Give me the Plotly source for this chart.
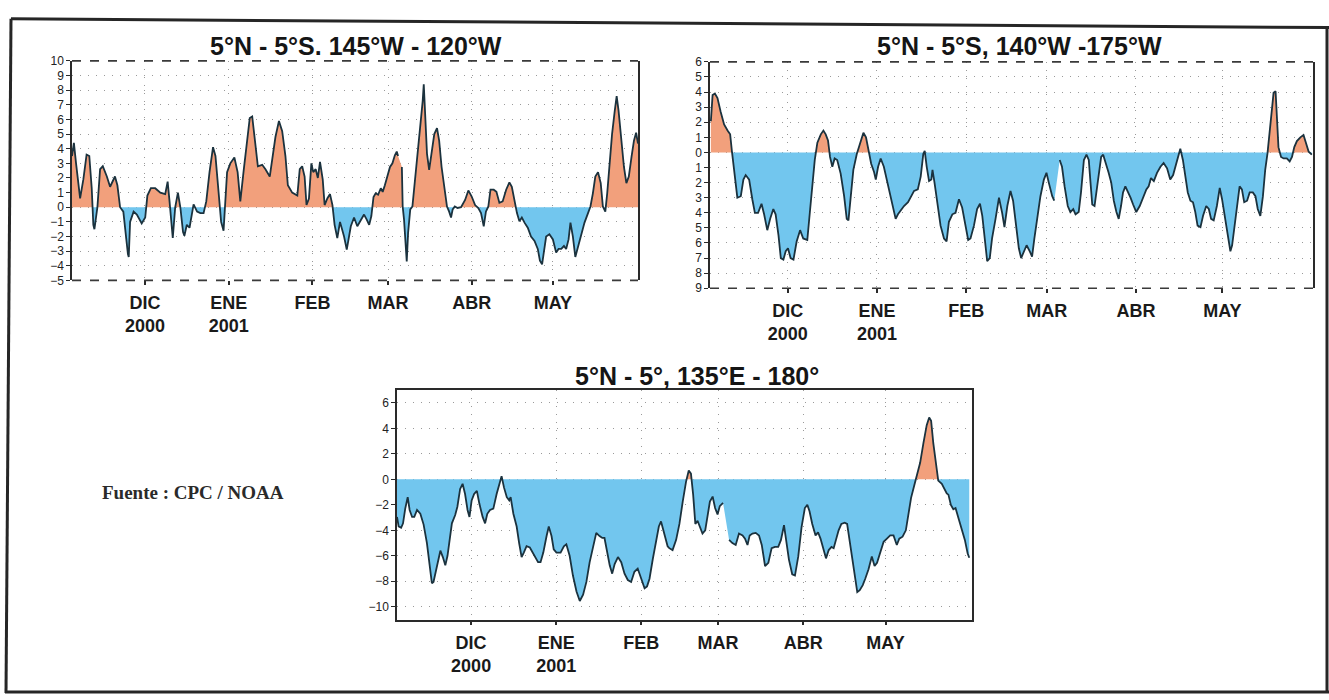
import plotly.graph_objects as go
import pandas as pd

# ---------------- data (days since 2000-11-04, anomaly values) ----------------
START = "2000-11-04"
month_ticks = ["2000-12-01", "2001-01-01", "2001-02-01", "2001-03-01", "2001-04-01", "2001-05-01"]
month_labels = ["DIC<br>2000", "ENE<br>2001", "FEB", "MAR", "ABR", "MAY"]

titles = ["5°N - 5°S. 145°W - 120°W", "5°N - 5°S, 140°W -175°W", "5°N - 5°, 135°E - 180°"]
source_note = "Fuente : CPC / NOAA"

p1_days = [0, 0.7, 1.5, 3.0, 4.2, 5.4, 6.4, 7.3, 7.9, 8.3, 9.4, 10.4, 11.4, 12.9, 14.1, 15.3, 15.9, 16.8,
           17.8, 19.0, 19.9, 20.7, 21.0, 21.5, 22.8, 24.0, 25.8, 27.1, 27.9, 29.2, 30.8, 32.7, 34.5, 35.4,
           36.1, 37.0, 37.3, 38.2, 39.2, 40.1, 41.1, 41.6, 42.5, 43.5, 45.0, 46.3, 47.5, 48.7, 49.7, 50.9,
           52.2, 53.1, 54.3, 55.2, 56.1, 56.8, 57.4, 58.6, 60.1, 61.3, 62.3, 63.6, 64.8, 65.8, 66.7, 67.5,
           68.8, 70.4, 71.6, 73.2, 74.1, 75.3, 76.6, 77.8, 79.0, 79.9, 81.5, 83.4, 84.3, 85.2, 86.1, 86.8,
           87.7, 88.6, 89.3, 90.2, 91.0, 91.8, 92.8, 93.5, 94.5, 95.5, 96.4, 97.2, 98.2, 99.2, 100.7, 101.7,
           103.2, 104.4, 105.6, 106.9, 108.1, 109.1, 110.0, 110.8, 111.6, 112.4, 113.3, 114.3, 115.0, 115.8,
           116.8, 117.7, 118.6, 119.5, 120.2, 120.7, 121.4, 122.1, 122.4, 122.9, 123.6, 123.9, 124.4, 125.2,
           126.0, 126.9, 127.9, 128.9, 129.8, 130.2, 130.7, 131.4, 132.2, 133.1, 134.1, 135.1, 135.9, 136.8,
           137.8, 138.8, 139.6, 140.3, 140.9, 141.7, 142.7, 144.0, 145.5, 146.7, 147.9, 149.2, 150.4, 151.4,
           152.4, 153.2, 154.1, 154.9, 156.1, 157.1, 158.2, 159.4, 160.7, 161.9, 162.8, 163.8, 164.7, 165.6,
           166.5, 167.5, 168.7, 169.9, 171.2, 172.4, 173.2, 174.0, 174.7, 175.5, 176.7, 178.0, 179.2, 180.1,
           181.1, 182.1, 182.9, 183.8, 184.5, 185.4, 186.3, 187.3, 188.5, 189.7, 191.0, 191.9, 192.8, 193.7,
           194.7, 195.7, 196.5, 197.4, 198.1, 199.0, 199.9, 200.9, 201.6, 202.3, 203.3, 204.3, 205.2, 206.1,
           207.1, 208.0, 208.8, 209.5]
p1_vals = [3.5, 4.4, 3.0, 0.6, 1.9, 3.6, 3.5, 1.3, -1.2, -1.5, 0.0, 2.6, 2.8, 2.1, 1.4, 1.9, 2.1, 1.5,
           0.0, -0.3, -2.1, -3.2, -3.4, -1.0, -0.3, -0.5, -1.1, -0.7, 0.8, 1.3, 1.3, 1.0, 0.9, 1.75,
           0.4, -1.9, -2.1, 0.0, 1.0, 0.0, -1.7, -1.95, -1.2, -1.4, 0.2, -0.3, -0.4, -0.4, 0.4, 2.4,
           4.1, 3.5, 0.6, -1.0, -1.6, 0.6, 2.4, 3.0, 3.4, 2.4, 0.4, 2.6, 4.4, 6.1, 6.2, 5.0,
           2.8, 2.9, 2.6, 2.1, 3.3, 4.8, 5.9, 5.2, 3.5, 1.5, 1.0, 0.8, 2.6, 2.8, 2.1, 0.15,
           0.6, 3.0, 2.4, 2.6, 2.0, 3.1, 1.9, 0.15, 0.6, 0.9, 0.15, -1.2, -2.1, -1.0, -2.0, -2.9,
           -1.3, -0.7, -1.3, -0.85, -0.5, -0.85, -1.2, -0.6, 0.7, 0.95, 0.85, 1.3, 1.05, 1.5,
           2.1, 2.75, 3.0, 3.55, 3.8, 3.5, None, 2.75, 0.05, -0.85, -3.1, -3.7, -1.75, -0.15,
           0.05, 1.65, 3.45, 5.45, 7.25, 8.4, 6.35, 3.65, 2.55, 3.65, 5.0, 5.4, 4.55, 2.75,
           1.2, 0.05, -0.3, -0.7, -0.15, 0.05, -0.05, 0.0, 0.5, 1.15, 0.75, 0.15, -0.05, -0.4,
           -1.3, -0.3, 0.05, 1.2, 1.2, 1.05, 0.3, 0.4, 1.2, 1.7, 1.4, 0.4, -0.4, -0.95,
           -0.7, -1.05, -1.4, -2.0, -2.3, -2.85, -3.65, -3.9, -2.85, -2.0, -1.85, -2.2, -3.1, -2.85,
           -2.85, -2.65, -2.85, -2.2, -1.05, -2.0, -3.4, -2.65, -1.75, -1.05, -0.4, 0.05, 0.95, 2.1,
           2.4, 1.65, 0.05, -0.3, 0.95, 3.2, 5.0, 6.6, 7.6, 6.6, 4.55, 2.75, 1.65, 2.1,
           3.45, 4.55, 5.1, 4.35]

p2_days = [0.3, 0.9, 1.7, 2.6, 3.7, 4.9, 6.1, 7.0, 7.6, 8.1, 9.0, 9.5, 10.7, 11.6, 12.4, 13.6, 14.7, 15.6,
           16.7, 17.9, 18.8, 19.9, 20.9, 22.0, 22.8, 23.8, 24.6, 25.5, 26.3, 27.1, 28.0, 29.0, 30.1, 31.3,
           32.4, 33.8, 34.8, 35.6, 36.4, 37.3, 38.5, 39.4, 40.2, 41.0, 41.7, 42.5, 43.3, 44.2, 45.4, 46.6,
           47.5, 48.1, 48.9, 49.8, 51.0, 52.1, 53.3, 54.2, 55.2, 56.0, 57.0, 57.6, 58.4, 59.3, 60.4, 61.6,
           62.8, 63.7, 64.5, 65.3, 66.2, 67.4, 68.8, 69.7, 70.9, 72.2, 73.2, 74.1, 74.6, 75.3, 76.1, 76.9,
           77.3, 78.0, 79.0, 80.1, 81.3, 82.2, 83.0, 84.2, 85.3, 86.5, 87.6, 88.8, 89.7, 90.5, 91.7, 92.8,
           93.8, 94.6, 95.4, 96.3, 97.2, 98.0, 99.2, 100.4, 101.5, 102.3, 103.3, 104.4, 105.3, 106.1, 107.3,
           108.1, 109.0, 110.0, 111.1, 111.9, 112.7, 113.7, 114.8, 116.0, 116.9, 117.7, 118.9, 119.6, 120.5,
           121.5, 122.3, 123.2, 124.3, 125.2, 126.2, 127.0, 128.1, 128.9, 129.9, 130.8, 131.6, 132.2, 132.8,
           133.6, 134.3, 135.1, 135.9, 136.6, 137.4, 138.5, 139.4, 140.3, 141.2, 142.0, 142.8, 143.5, 144.3,
           145.1, 146.1, 147.0, 148.1, 149.3, 150.5, 151.6, 152.4, 153.2, 154.2, 155.3, 156.5, 157.6, 158.8,
           159.9, 160.9, 161.7, 162.5, 163.4, 164.3, 165.2, 166.0, 166.9, 167.8, 168.6, 169.4, 170.4, 171.3,
           172.4, 173.3, 174.1, 175.0, 176.1, 177.1, 177.9, 179.0, 179.8, 180.8, 181.4, 182.2, 183.1, 184.0,
           184.8, 185.6, 186.6, 187.5, 188.6, 189.5, 190.3, 191.2, 192.1, 192.9, 193.7, 194.4, 195.2, 195.8,
           196.5, 197.0, 197.5, 198.4, 199.3, 200.4, 201.4, 202.2, 203.0, 203.9, 205.1, 206.2, 207.2, 208.0,
           209.1]
p2_vals = [2.07, 3.8, 3.9, 3.6, 2.7, 1.85, 1.45, 1.2, 0.1, -0.75, -2.25, -3.0, -2.9, -1.8, -1.5, -1.8, -3.1, -4.0,
           -4.0, -3.4, -4.1, -5.15, -4.4, -3.75, -4.1, -5.5, -7.0, -7.1, -6.55, -6.35, -7.0, -7.1, -5.9, -5.15,
           -5.7, -5.8, -3.75, -2.0, -0.5, 0.65, 1.2, 1.45, 1.2, 0.8, -0.3, -0.95, -0.4, -0.5, -1.4, -2.9,
           -4.4, -4.5, -2.9, -1.15, -0.1, 0.65, 1.3, 1.0, 0.1, -0.75, -1.3, -1.8, -0.95, -0.4, -0.95, -2.0,
           -2.9, -3.75, -4.4, -4.1, -3.85, -3.55, -3.3, -3.0, -2.55, -2.45, -1.6, -0.1, 0.1, -0.95, -1.9, -1.8,
           -1.15, -2.0, -3.3, -4.85, -5.7, -5.9, -4.6, -4.1, -4.0, -3.1, -3.65, -4.85, -5.8, -5.7, -4.85, -3.75,
           -3.4, -4.2, -5.7, -7.2, -7.0, -5.7, -4.4, -3.0, -4.0, -4.95, -3.55, -2.55, -3.2, -4.6, -6.35,
           -7.0, -6.55, -6.15, -6.55, -6.9, -5.7, -4.2, -2.9, -1.8, -1.35, -2.0, -2.9, -3.2, None,
           -0.5, -0.95, -2.25, -3.55, -3.95, -3.75, -4.1, -3.95, -2.65, -0.5, -0.15, -0.5, -2.0, -3.45,
           -3.55, -2.65, -1.35, -0.3, -0.15, -0.6, -1.35, -2.0, -3.2, -3.95, -4.4, -3.55, -2.65, -2.25,
           -2.55, -3.0, -3.45, -3.95, -3.55, -2.9, -2.45, -2.25, -1.7, -1.9, -1.35, -0.95, -0.7, -1.05,
           -1.8, -1.5, -0.95, -0.4, 0.25, -0.5, -1.6, -2.65, -3.2, -3.3, -3.95, -4.85, -4.95, -4.2,
           -3.55, -3.75, -4.4, -4.5, -3.55, -2.35, -3.1, -4.4, -5.5, -6.55, -6.15, -4.85, -3.55, -2.25,
           -2.45, -3.3, -3.2, -2.65, -2.65, -2.9, -3.75, -4.2, -2.9, -1.15, -0.05, 1.25, 3.2, 3.95,
           4.05, 2.55, 0.35, -0.3, -0.4, -0.4, -0.6, -0.3, 0.35, 0.75, 1.0, 1.15, 0.5, 0.05,
           -0.15]

p3_days = [0.0, 0.6, 1.5, 2.2, 3.0, 3.9, 4.6, 5.5, 6.3, 7.3, 8.5, 9.7, 10.9, 11.9, 12.7, 13.3, 14.3, 15.1,
           15.8, 16.7, 17.6, 18.4, 19.1, 20.0, 21.2, 22.0, 23.0, 23.9, 24.8, 25.7, 26.4, 27.2, 28.1, 29.1,
           30.0, 31.2, 32.1, 32.9, 33.9, 35.1, 36.3, 37.3, 38.1, 39.0, 40.0, 40.9, 41.4, 42.4, 43.6, 44.5,
           45.4, 46.2, 47.2, 48.4, 49.4, 50.2, 51.4, 52.3, 53.3, 54.5, 55.3, 56.3, 57.1, 58.1, 59.6, 60.8,
           61.7, 62.9, 64.1, 65.4, 66.6, 67.8, 69.0, 70.2, 71.4, 72.6, 73.8, 74.8, 75.6, 76.5, 77.5, 78.4,
           79.3, 80.5, 81.7, 82.9, 84.1, 85.3, 86.5, 87.7, 89.0, 90.2, 91.1, 92.0, 93.2, 94.4, 95.4, 96.2,
           97.4, 98.6, 99.2, 100.4, 101.7, 102.9, 104.1, 105.3, 106.3, 107.1, 107.9, 108.7, 109.5, 110.4,
           111.3, 112.3, 113.2, 114.0, 115.0, 115.9, 116.8, 117.6, 118.8, 119.8, 121.0, 122.2, 123.4, 124.6,
           125.9, 126.8, 127.7, 128.5, 129.5, 130.7, 131.9, 132.9, 134.1, 135.3, 136.5, 137.7, 138.9, 139.9,
           141.0, 141.8, 142.8, 144.0, 145.0, 146.2, 147.4, 148.6, 149.5, 150.3, 151.3, 152.5, 153.4, 154.3,
           155.5, 156.3, 157.3, 158.3, 159.1, 160.0, 160.9, 161.9, 163.1, 164.0, 164.8, 165.8, 166.8, 167.7,
           168.6, 169.7, 170.6, 171.8, 173.0, 174.0, 174.9, 176.1, 177.3, 178.5, 179.7, 180.9, 182.1, 183.0,
           184.2, 185.4, 186.4, 187.3, 188.5, 189.5, 190.6, 191.8, 193.0, 193.9, 194.6, 195.4, 196.3, 197.2,
           198.5, 199.4, 200.3, 200.9, 201.8, 202.7, 203.5, 204.5, 205.7, 206.9, 207.9, 208.5]
p3_vals = [-2.95, -3.7, -3.8, -3.45, -2.3, -1.4, -2.4, -2.95, -2.95, -2.4, -2.7, -3.55, -5.0, -6.75, -8.15, -8.05, -7.0, -6.25,
           -5.6, -6.1, -6.75, -6.0, -4.7, -3.45, -2.8, -2.15, -0.75, -0.35, -1.15, -2.4, -2.95, -1.65, -1.15, -0.9,
           -1.9, -2.95, -3.45, -2.7, -2.4, -2.3, -1.15, -0.4, 0.25, -0.65, -1.4, -1.65, -1.4, -2.7, -3.7, -5.0,
           -6.1, -5.75, -5.25, -5.35, -5.75, -6.1, -6.5, -6.5, -5.75, -4.45, -3.7, -4.45, -5.5, -5.75, -5.75, -5.25,
           -5.1, -6.0, -7.55, -8.8, -9.55, -9.05, -8.05, -6.5, -5.25, -4.2, -4.45, -4.6, -4.6, -5.6, -6.75, -7.4,
           -6.65, -6.1, -6.5, -7.4, -7.9, -8.05, -7.25, -7.0, -7.8, -8.55, -8.4, -7.8, -6.25, -5.0, -3.7, -3.3,
           -4.2, -5.25, -5.4, -5.55, -4.75, -3.5, -1.75, -0.2, 0.7, 0.45, -1.2, -3.5, -3.25, -3.75,
           -4.25, -4.0, -2.75, -1.75, -1.35, -2.25, -2.75, -2.1, -1.85, None, -4.75, -5.0, -5.15, -4.25,
           -4.4, -4.65, -5.15, -4.4, -4.25, -4.2, -4.4, -5.15, -6.8, -6.55, -5.4, -5.3, -5.3, -4.75,
           -3.6, -4.75, -6.3, -7.45, -7.55, -6.05, -3.75, -2.25, -2.0, -2.5, -3.5, -4.4, -4.15, -4.65,
           -5.55, -6.2, -5.55, -5.3, -5.4, -4.75, -4.0, -3.5, -3.4, -3.5, -4.75, -6.3, -7.8, -8.85,
           -8.7, -8.3, -7.8, -7.05, -6.05, -6.8, -6.55, -5.8, -4.9, -4.65, -4.4, -4.4, -5.15, -4.65,
           -4.5, -4.0, -2.75, -1.45, -0.45, 0.3, 1.3, 2.85, 4.25, 4.85, 4.6, 2.85, 1.3, -0.1,
           -0.35, -0.7, -1.1, -1.2, -2.0, -2.35, -2.25, -3.0, -3.9, -4.75, -5.8, -6.15]

# ---------------- styling ----------------
W, H = 1329, 700
POS_COLOR = "#F2A07C"
NEG_COLOR = "#72C6EE"
LINE_COLOR = "#1B323E"
GRID_COLOR = "#9A9A9A"
GRID_DASH = "1px,7px"
AX_COLOR = "#2A2A2A"
SANS = "Liberation Sans, Arial, sans-serif"
NARROW = "Liberation Sans Narrow, Arial Narrow, Liberation Sans, sans-serif"

base = pd.Timestamp(START)


def to_dates(days):
    return [(base + pd.Timedelta(days=float(d))).strftime("%Y-%m-%d %H:%M:%S") for d in days]


def signed_parts(days, vals):
    """Split a series into its positive and negative parts, adding the zero crossings
    so that each coloured area meets the zero line exactly."""
    xs, pos, neg = [], [], []
    prev = None
    for d, v in zip(days, vals):
        if v is None:
            xs.append(d); pos.append(None); neg.append(None); prev = None
            continue
        if prev is not None and prev[1] * v < 0:
            d0, v0 = prev
            dc = d0 + (d - d0) * v0 / (v0 - v)
            xs.append(dc); pos.append(0.0); neg.append(0.0)
        xs.append(d)
        pos.append(v if v >= 0 else None)
        neg.append(v if v <= 0 else None)
        prev = (d, v)
    return xs, pos, neg


def px_dom(a, b, total):
    return [a / total, b / total]


def py_dom(top, bottom):
    return [1 - bottom / H, 1 - top / H]


panels = [
    dict(days=p1_days, vals=p1_vals, x=px_dom(72, 638, W), y=py_dom(55, 279), yr=[-5, 10],
         tv=list(range(-5, 11)), tt=[("−" + str(-v)) if v < 0 else str(v) for v in range(-5, 11)],
         dashed=True, yfont=dict(family=NARROW, size=12, color="#222")),
    dict(days=p2_days, vals=p2_vals, x=px_dom(710, 1313, W), y=py_dom(56, 287), yr=[-9, 6],
         tv=list(range(-9, 7)), tt=[str(abs(v)) for v in range(-9, 7)],
         dashed=True, yfont=dict(family=NARROW, size=12, color="#222")),
    dict(days=p3_days, vals=p3_vals, x=px_dom(397, 972, W), y=py_dom(391, 625), yr=[-11, 7],
         tv=list(range(-10, 7, 2)), tt=[("−" + str(-v)) if v < 0 else str(v) for v in range(-10, 7, 2)],
         dashed=False, yfont=dict(family=SANS, size=12, color="#222")),
]

fig = go.Figure()
shapes = []
xrange_ = [START, "2001-06-01 12:00:00"]

for i, p in enumerate(panels, start=1):
    xa = "x" if i == 1 else f"x{i}"
    ya = "y" if i == 1 else f"y{i}"
    xs, pos, neg = signed_parts(p["days"], p["vals"])
    xd = to_dates(xs)
    fig.add_trace(go.Scatter(x=xd, y=pos, mode="lines", fill="tozeroy", fillcolor=POS_COLOR,
                             line=dict(width=0, color=POS_COLOR), connectgaps=False,
                             hoverinfo="skip", showlegend=False, xaxis=xa, yaxis=ya))
    fig.add_trace(go.Scatter(x=xd, y=neg, mode="lines", fill="tozeroy", fillcolor=NEG_COLOR,
                             line=dict(width=0, color=NEG_COLOR), connectgaps=False,
                             hoverinfo="skip", showlegend=False, xaxis=xa, yaxis=ya))
    fig.add_trace(go.Scatter(x=to_dates(p["days"]), y=p["vals"], mode="lines",
                             line=dict(width=1.8, color=LINE_COLOR), connectgaps=False,
                             showlegend=False, xaxis=xa, yaxis=ya))

    xkey = "xaxis" if i == 1 else f"xaxis{i}"
    ykey = "yaxis" if i == 1 else f"yaxis{i}"
    fig.update_layout({
        xkey: dict(domain=p["x"], anchor=ya, type="date", range=xrange_,
                   tickmode="array", tickvals=month_ticks, ticktext=month_labels,
                   ticks="outside", ticklen=4, tickcolor=AX_COLOR, tickwidth=1.5,
                   ticklabelstandoff=2,
                   tickfont=dict(family=SANS, size=18, color="#1a1a1a", weight="bold"),
                   showgrid=True, gridcolor=GRID_COLOR, griddash=GRID_DASH, gridwidth=1,
                   showline=not p["dashed"], mirror=not p["dashed"], linecolor=AX_COLOR,
                   linewidth=1.5, zeroline=False, fixedrange=True),
        ykey: dict(domain=p["y"], anchor=xa, range=p["yr"], tickmode="array",
                   tickvals=p["tv"], ticktext=p["tt"], ticks="outside", ticklen=4,
                   tickcolor=AX_COLOR, tickwidth=1.2, tickfont=p["yfont"],
                   showgrid=True, gridcolor=GRID_COLOR, griddash=GRID_DASH, gridwidth=1,
                   showline=True, mirror=True, linecolor=AX_COLOR, linewidth=1.5,
                   zeroline=False, fixedrange=True),
    })
    if p["dashed"]:
        for yy in (0, 1):
            shapes.append(dict(type="line", xref=f"{xa} domain", yref=f"{ya} domain",
                               x0=0, x1=1, y0=yy, y1=yy,
                               line=dict(color="#3a3a3a", width=1.6, dash="dash")))

# outer frame (slightly tilted as in the scan)
def P(x, y):
    return x / W, 1 - y / H

for (a, b) in [((11, 12), (1329, 21)), ((11, 12), (6, 700)), ((5, 699), (1329, 699)), ((1327, 21), (1327, 700))]:
    x0, y0 = P(*a)
    x1, y1 = P(*b)
    shapes.append(dict(type="line", xref="paper", yref="paper", x0=x0, y0=y0, x1=x1, y1=y1,
                       line=dict(color="#262626", width=3)))

annotations = []
for txt, cx, cy in [(titles[0], 356, 40), (titles[1], 1019, 40), (titles[2], 697, 377)]:
    annotations.append(dict(text=txt, x=cx / W, y=1 - cy / H, xref="paper", yref="paper",
                            xanchor="center", yanchor="middle", showarrow=False,
                            font=dict(family=SANS, size=25, color="#151515", weight="bold")))
annotations.append(dict(text=source_note, x=193 / W, y=1 - 495 / H, xref="paper", yref="paper",
                        xanchor="center", yanchor="middle", showarrow=False,
                        font=dict(family="Liberation Serif, Times New Roman, serif", size=19,
                                  color="#2a2a2a", weight="bold")))

fig.update_layout(width=W, height=H, autosize=False,
                  margin=dict(l=0, r=0, t=0, b=0),
                  paper_bgcolor="white", plot_bgcolor="white",
                  shapes=shapes, annotations=annotations, showlegend=False)

fig.write_html("out.html")
